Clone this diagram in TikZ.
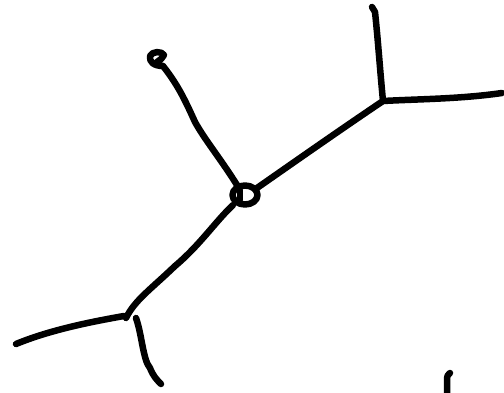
\documentclass[tikz,border=0pt]{standalone}
\begin{document}
\begin{tikzpicture}[x=1pt,y=-1pt,
  stroke/.style={line width=6.5pt,line cap=round,line join=round,black}]
\useasboundingbox (0,0) rectangle (504,393);
% centre loop
\coordinate (c) at (245,195);
\draw[stroke] (c) ellipse [x radius=12.5, y radius=9.5];
\draw[stroke] (240,190) -- (240,200);
% upper-left branch with blob
\draw[stroke] (237,185) .. controls (220,158) and (205,140) .. (195,122)
  .. controls (185,100) and (178,85) .. (163,66);
\draw[stroke] (163,66) .. controls (154,66) and (149,62) .. (150,56)
  .. controls (152,51) and (162,51) .. (164,55) .. controls (163,58) and (160,60) .. (157,62);
% upper-right branch
\coordinate (j1) at (383,101);
\draw[stroke] (257,188) .. controls (300,158) and (340,130) .. (j1);
\draw[stroke] (j1) .. controls (380,70) and (378,40) .. (375,12) -- (372,7);
\draw[stroke] (j1) .. controls (420,99) and (460,99) .. (502,93);
% lower-left branch
\coordinate (j2) at (126,318);
\draw[stroke] (233,205) .. controls (215,222) and (200,245) .. (175,266)
  .. controls (150,290) and (135,300) .. (j2);
\draw[stroke] (124,316) .. controls (90,322) and (50,330) .. (16,344);
\draw[stroke] (136,318) .. controls (142,335) and (143,360) .. (150,368)
  .. controls (153,376) and (157,380) .. (161,384);
% small tick bottom right
\draw[stroke] (447,393) -- (447,380) .. controls (447,376) and (448,374) .. (450,373);
\end{tikzpicture}
\end{document}
